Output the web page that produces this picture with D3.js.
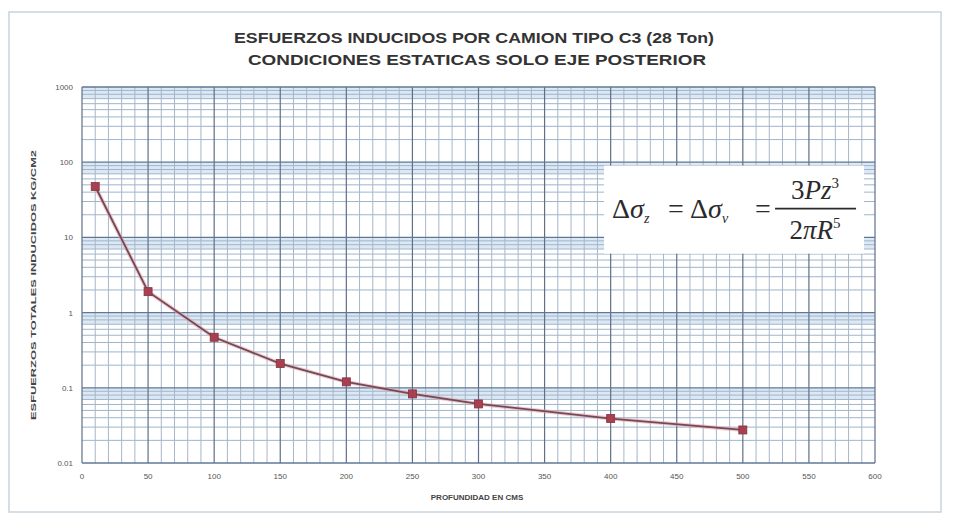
<!DOCTYPE html>
<html>
<head>
<meta charset="utf-8">
<script src="https://cdn.jsdelivr.net/npm/d3@7"></script>
<style>
  body { margin: 0; background: #fff; }
  svg { font-family: "Liberation Sans", Arial, sans-serif; }
</style>
</head>
<body>
<svg id="chart" width="964" height="515"></svg>
<script>
// Data
const depths = [10, 50, 100, 150, 200, 250, 300, 400, 500];
const stresses = [47.5, 1.9, 0.47, 0.21, 0.12, 0.083, 0.061, 0.039, 0.0275];
const xTicks = [0, 50, 100, 150, 200, 250, 300, 350, 400, 450, 500, 550, 600];
const yTicks = [0.01, 0.1, 1, 10, 100, 1000];
const yTickLabels = ["0.01", "0.1", "1", "10", "100", "1000"];

const svg = d3.select("#chart");
const margin = { top: 87, left: 82 };
const width = 793;
const height = 376;

// Outer frame
svg.append("rect")
  .attr("x", 9).attr("y", 12)
  .attr("width", 932).attr("height", 500)
  .attr("fill", "#fff")
  .attr("stroke", "#c9d4dd")
  .attr("stroke-width", 1.5);

// Titles
svg.append("text")
  .attr("x", 474).attr("y", 43)
  .attr("text-anchor", "middle")
  .attr("font-size", 15).attr("font-weight", "bold")
  .attr("fill", "#333")
  .attr("textLength", 480).attr("lengthAdjust", "spacingAndGlyphs")
  .text("ESFUERZOS INDUCIDOS POR CAMION  TIPO C3 (28 Ton)");

svg.append("text")
  .attr("x", 477).attr("y", 65)
  .attr("text-anchor", "middle")
  .attr("font-size", 15).attr("font-weight", "bold")
  .attr("fill", "#333")
  .attr("textLength", 458).attr("lengthAdjust", "spacingAndGlyphs")
  .text("CONDICIONES ESTATICAS SOLO EJE POSTERIOR");

const g = svg.append("g")
  .attr("transform", `translate(${margin.left},${margin.top})`);

const x = d3.scaleLinear().domain([0, 600]).range([0, width]);
const y = d3.scaleLog().domain([0.01, 1000]).range([height, 0]);

// Light blue bands just under every decade line
g.selectAll(".band")
  .data(yTicks.slice(1))
  .enter().append("rect")
  .attr("x", 0).attr("width", width)
  .attr("y", d => y(d))
  .attr("height", d => y(d * 0.7) - y(d))
  .attr("fill", "#dce8f4");

// Horizontal log grid (minor lines 2..9 of every decade)
const minorY = [];
yTicks.slice(0, -1).forEach(dec => {
  for (let k = 2; k <= 9; k++) minorY.push(dec * k);
});

g.selectAll(".hminor")
  .data(minorY)
  .enter().append("line")
  .attr("x1", 0).attr("x2", width)
  .attr("y1", d => y(d)).attr("y2", d => y(d))
  .attr("stroke", "#9fb5cc")
  .attr("stroke-width", 1);

// Vertical grid, minor every 10
const minorX = d3.range(0, 601, 10).filter(v => v % 50 !== 0);
g.selectAll(".vminor")
  .data(minorX)
  .enter().append("line")
  .attr("y1", 0).attr("y2", height)
  .attr("x1", d => x(d)).attr("x2", d => x(d))
  .attr("stroke", "#a7b6c7")
  .attr("stroke-width", 1);

g.selectAll(".vmajor")
  .data(xTicks)
  .enter().append("line")
  .attr("y1", 0).attr("y2", height)
  .attr("x1", d => x(d)).attr("x2", d => x(d))
  .attr("stroke", "#5f6f86")
  .attr("stroke-width", 1.2);

g.selectAll(".hmajor")
  .data(yTicks)
  .enter().append("line")
  .attr("x1", 0).attr("x2", width)
  .attr("y1", d => y(d)).attr("y2", d => y(d))
  .attr("stroke", "#5f7895")
  .attr("stroke-width", 1.3);

// Formula box
const box = g.append("g").attr("transform", `translate(${x(395)},${y(90)})`);
box.append("rect")
  .attr("x", 0).attr("y", 0)
  .attr("width", 260).attr("height", 88)
  .attr("fill", "#fff");

const ff = "'Liberation Serif', 'DejaVu Serif', 'Times New Roman', serif";
const ink = "#2b2b2b";

function sigma(xPos, sub) {
  const t = box.append("text")
    .attr("x", xPos).attr("y", 52)
    .style("font-family", ff).attr("font-size", 28)
    .attr("fill", ink);
  t.append("tspan").text("Δ");
  t.append("tspan").attr("font-style", "italic").text("σ");
  t.append("tspan").attr("font-style", "italic").attr("font-size", 14).attr("dy", 5).text(sub);
}
sigma(8, "z");
sigma(86, "v");

[64, 151].forEach(xPos => {
  box.append("text")
    .attr("x", xPos).attr("y", 52)
    .style("font-family", ff).attr("font-size", 28)
    .attr("fill", ink).text("=");
});

const num = box.append("text")
  .attr("x", 211).attr("y", 33)
  .attr("text-anchor", "middle")
  .style("font-family", ff).attr("font-size", 27).attr("fill", ink);
num.append("tspan").text("3");
num.append("tspan").attr("font-style", "italic").text("Pz");
num.append("tspan").attr("font-size", 15).attr("dy", -11).text("3");

box.append("line")
  .attr("x1", 171).attr("x2", 252)
  .attr("y1", 43).attr("y2", 43)
  .attr("stroke", ink).attr("stroke-width", 1.6);

const den = box.append("text")
  .attr("x", 211).attr("y", 73)
  .attr("text-anchor", "middle")
  .style("font-family", ff).attr("font-size", 27).attr("fill", ink);
den.append("tspan").text("2");
den.append("tspan").attr("font-style", "italic").text("πR");
den.append("tspan").attr("font-size", 15).attr("dy", -11).text("5");

// Axes tick labels
g.selectAll(".ylab")
  .data(yTicks)
  .enter().append("text")
  .attr("x", -9).attr("y", d => y(d) + 3)
  .attr("text-anchor", "end")
  .attr("font-size", 8).attr("fill", "#555")
  .text((d, i) => yTickLabels[i]);

g.selectAll(".xlab")
  .data(xTicks)
  .enter().append("text")
  .attr("x", d => x(d)).attr("y", height + 16)
  .attr("text-anchor", "middle")
  .attr("font-size", 8).attr("fill", "#555")
  .text(d => d);

// Axis titles
svg.append("text")
  .attr("x", 477).attr("y", 500)
  .attr("text-anchor", "middle")
  .attr("font-size", 8).attr("font-weight", "bold")
  .attr("fill", "#444")
  .text("PROFUNDIDAD EN CMS");

svg.append("text")
  .attr("transform", "translate(36,285) rotate(-90)")
  .attr("text-anchor", "middle")
  .attr("font-size", 8).attr("font-weight", "bold")
  .attr("fill", "#444")
  .attr("textLength", 270).attr("lengthAdjust", "spacingAndGlyphs")
  .text("ESFUERZOS TOTALES INDUCIDOS KG/CM2");

// Series
const points = depths.map((d, i) => ({ depth: d, value: stresses[i] }));

const line = d3.line()
  .x(d => x(d.depth))
  .y(d => y(d.value));

g.append("path")
  .datum(points)
  .attr("d", line)
  .attr("fill", "none")
  .attr("stroke", "#e7a3ad")
  .attr("stroke-width", 4)
  .attr("opacity", 0.6);

g.append("path")
  .datum(points)
  .attr("d", line)
  .attr("fill", "none")
  .attr("stroke", "#6e4b55")
  .attr("stroke-width", 1.8);

g.selectAll(".pt")
  .data(points)
  .enter().append("rect")
  .attr("x", d => x(d.depth) - 4)
  .attr("y", d => y(d.value) - 4)
  .attr("width", 8).attr("height", 8)
  .attr("fill", "#a8414f")
  .attr("stroke", "#8a3040")
  .attr("stroke-width", 0.8);
</script>
</body>
</html>
